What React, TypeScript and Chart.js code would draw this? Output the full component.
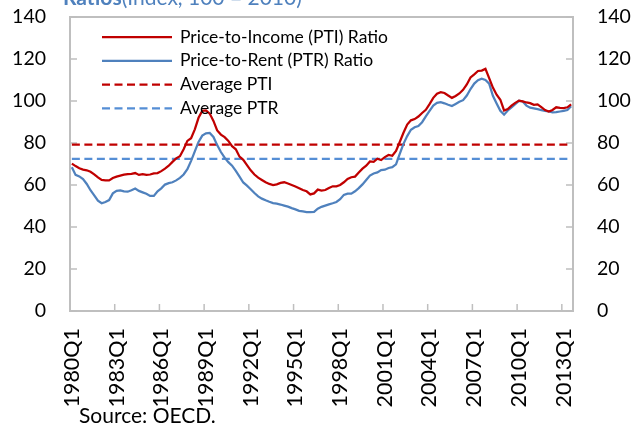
import { useEffect, useRef } from "react";
import { Chart, registerables } from "chart.js";

Chart.register(...registerables);

// ---------- data ----------
const START_YEAR = 1980;
const N_QUARTERS = 135; // 1980Q1 .. 2013Q3
const quarters: string[] = [];
for (let k = 0; k < N_QUARTERS; k++) {
  quarters.push(`${START_YEAR + Math.floor(k / 4)}Q${(k % 4) + 1}`);
}

const pti: number[] = [
  70.2, 69.0, 68.0, 67.3, 67.0, 66.3, 65.1, 63.6, 62.4, 62.2,
  62.2, 63.3, 64.0, 64.5, 64.9, 65.2, 65.3, 65.7, 64.8, 65.2,
  64.8, 65.0, 65.5, 65.7, 66.6, 67.8, 69.2, 71.0, 72.7, 73.7,
  77.0, 81.0, 82.3, 86.5, 92.0, 95.3, 95.5, 94.0, 90.5, 86.0,
  84.0, 82.8, 81.0, 78.5, 77.0, 73.5, 72.0, 69.5, 67.0, 65.0,
  63.5, 62.4, 61.3, 60.5, 60.0, 60.3, 61.0, 61.3, 60.7, 60.0,
  59.3, 58.5, 57.6, 57.0, 55.5, 56.0, 57.8, 57.3, 57.6, 58.6,
  59.4, 59.4, 60.0, 61.3, 62.9, 63.7, 64.0, 66.0, 67.8, 69.2,
  71.2, 71.0, 72.5, 71.9, 73.3, 74.3, 73.9, 76.2, 80.5, 84.9,
  88.8, 90.8, 91.4, 92.6, 94.3, 95.8, 98.5, 101.5, 103.5, 104.2,
  103.8, 102.6, 101.5, 102.4, 103.6, 105.3, 107.9, 111.2, 112.7, 114.3,
  114.5, 115.3, 110.9, 106.4, 103.0, 100.6, 95.5, 96.2, 97.8, 99.1,
  100.2, 99.8, 99.3, 99.0, 98.2, 98.4, 97.1, 95.7, 95.0, 95.7,
  97.0, 96.7, 96.6, 97.0, 98.4,
];

const ptr: number[] = [
  68.4, 64.8, 64.1, 62.8, 60.5, 57.5, 55.1, 52.5, 51.3, 51.9,
  52.8, 56.0, 57.2, 57.4, 57.0, 56.8, 57.5, 58.3, 57.2, 56.5,
  55.8, 54.8, 54.8, 57.0, 58.4, 60.2, 60.9, 61.3, 62.2, 63.4,
  65.0, 67.5, 71.5, 76.0, 80.5, 83.5, 84.6, 84.8, 82.9, 79.0,
  75.7, 73.0, 70.9, 69.2, 66.7, 64.0, 61.2, 59.7, 58.0, 56.2,
  54.6, 53.5, 52.7, 52.0, 51.4, 51.1, 50.7, 50.2, 49.7, 49.0,
  48.4, 47.7, 47.4, 47.1, 47.1, 47.2, 48.7, 49.6, 50.2, 50.8,
  51.3, 51.9, 53.2, 55.3, 55.9, 55.9, 57.0, 58.5, 60.3, 62.4,
  64.5, 65.5, 66.0, 67.1, 67.3, 68.1, 68.5, 69.8, 74.8, 79.6,
  83.3, 86.3, 87.5, 88.1, 89.9, 92.7, 95.3, 97.8, 99.1, 99.4,
  98.9, 98.2, 97.6, 98.6, 99.6, 100.4, 102.6, 105.7, 108.3, 109.9,
  110.6, 110.0, 108.3, 102.5, 98.8, 95.3, 93.5, 95.5, 97.0, 98.5,
  100.1, 99.8, 97.8, 96.8, 96.5, 96.1, 95.7, 95.3, 95.0, 94.6,
  94.7, 95.0, 95.3, 95.7, 97.5,
];

const AVG_PTI = 79.2;
const AVG_PTR = 72.4;

const seriesNames = [
  "Price-to-Income (PTI) Ratio",
  "Price-to-Rent (PTR) Ratio",
  "Average PTI",
  "Average PTR",
];

const Y_MIN = 0;
const Y_MAX = 140;
const Y_STEP = 20;
const X_LABEL_EVERY = 12;

const TITLE_BOLD = "Ratios";
const TITLE_REST = "(Index, 100 = 2010)";
const SOURCE = "Source: OECD.";

// ---------- styles ----------
const RED = "#c00000";
const BLUE = "#4f81bd";
const BLUE_DASH = "#558ed5";
const FRAME = "#bfbfbf";
const FONT = "Lato, 'Open Sans', sans-serif";

const framePlugin = {
  id: "frameTicks",
  beforeDatasetsDraw(chart: any) {
    const { ctx, chartArea: a, scales } = chart;
    ctx.save();
    ctx.strokeStyle = FRAME;
    ctx.lineWidth = 2;
    ctx.strokeRect(a.left, a.top, a.right - a.left, a.bottom - a.top);
    ctx.lineWidth = 1.5;
    ctx.beginPath();
    for (let v = Y_MIN; v <= Y_MAX; v += Y_STEP) {
      const y = scales.y.getPixelForValue(v);
      ctx.moveTo(a.left, y);
      ctx.lineTo(a.left + 7, y);
      ctx.moveTo(a.right - 7, y);
      ctx.lineTo(a.right, y);
    }
    const xs = scales.x;
    for (let i = X_LABEL_EVERY; i < quarters.length; i += X_LABEL_EVERY) {
      const px = (xs.getPixelForValue(i - 1) + xs.getPixelForValue(i)) / 2;
      ctx.moveTo(px, a.bottom);
      ctx.lineTo(px, a.bottom - 7);
    }
    ctx.stroke();
    ctx.restore();
  },
  afterDraw(chart: any) {
    const { ctx, chartArea: a } = chart;
    ctx.save();
    // legend inside plot
    const ds = chart.data.datasets;
    const x0 = a.left + 32;
    const x1 = a.left + 102;
    let y = a.top + 20;
    ctx.font = `17.5px ${FONT}`;
    ctx.textBaseline = "middle";
    ctx.fillStyle = "#000";
    for (const d of ds) {
      ctx.strokeStyle = d.borderColor;
      ctx.lineWidth = 2.25;
      ctx.setLineDash(d.borderDash || []);
      ctx.beginPath();
      ctx.moveTo(x0, y);
      ctx.lineTo(x1, y);
      ctx.stroke();
      ctx.setLineDash([]);
      ctx.fillText(d.label, x1 + 8, y);
      y += 23.8;
    }
    // title (cropped at top)
    ctx.textBaseline = "alphabetic";
    ctx.fillStyle = BLUE;
    ctx.font = `bold 21px ${FONT}`;
    ctx.fillText(TITLE_BOLD, 63, 5);
    const w = ctx.measureText(TITLE_BOLD).width;
    ctx.font = `21px ${FONT}`;
    ctx.fillText(TITLE_REST, 63 + w, 5);
    // source
    ctx.fillStyle = "#000";
    ctx.font = `21px ${FONT}`;
    ctx.fillText(SOURCE, 79, 423);
    ctx.restore();
  },
};

export default function App() {
  const ref = useRef<HTMLCanvasElement | null>(null);
  useEffect(() => {
    if (!ref.current) return;
    const yAxisCommon = {
      min: Y_MIN,
      max: Y_MAX,
      grid: { display: false, drawTicks: true, tickLength: 24 },
      border: { display: false },
      ticks: {
        stepSize: Y_STEP,
        padding: 0,
        color: "#000",
        font: { family: FONT, size: 19.5 },
      },
    };
    const chart = new Chart(ref.current, {
      type: "line",
      data: {
        labels: quarters,
        datasets: [
          {
            label: seriesNames[0],
            data: pti,
            borderColor: RED,
            borderWidth: 2.25,
            pointRadius: 0,
            tension: 0,
            fill: false,
            order: 1,
          },
          {
            label: seriesNames[1],
            data: ptr,
            borderColor: BLUE,
            borderWidth: 2.25,
            pointRadius: 0,
            tension: 0,
            fill: false,
            order: 2,
          },
          {
            label: seriesNames[2],
            data: quarters.map(() => AVG_PTI),
            borderColor: RED,
            borderWidth: 2.25,
            borderDash: [8, 4.5],
            pointRadius: 0,
            fill: false,
            order: 3,
          },
          {
            label: seriesNames[3],
            data: quarters.map(() => AVG_PTR),
            borderColor: BLUE_DASH,
            borderWidth: 2.25,
            borderDash: [8, 4.5],
            pointRadius: 0,
            fill: false,
            order: 4,
          },
        ],
      },
      options: {
        responsive: false,
        animation: false,
        devicePixelRatio: 1,
        layout: { padding: { top: 17, left: 0, right: 0, bottom: 0 } },
        plugins: {
          legend: { display: false },
          title: { display: false },
          tooltip: { enabled: false },
        },
        scales: {
          x: {
            type: "category",
            offset: true,
            grid: { display: false, drawTicks: true, tickLength: 17, offset: true },
            border: { display: false },
            ticks: {
              autoSkip: false,
              maxRotation: 90,
              minRotation: 90,
              padding: 0,
              color: "#000",
              font: { family: FONT, size: 21.5 },
              callback: (_v: any, idx: number) =>
                idx % X_LABEL_EVERY === 0 ? quarters[idx] : null,
            },
            afterFit: (s: any) => {
              s.height = 117;
            },
          },
          y: {
            ...yAxisCommon,
            position: "left",
            afterFit: (s: any) => {
              s.width = 70;
            },
          },
          y2: {
            ...yAxisCommon,
            position: "right",
            afterFit: (s: any) => {
              s.width = 63;
            },
          },
        },
      },
      plugins: [framePlugin],
    } as any);
    return () => chart.destroy();
  }, []);
  return (
    <div style={{ position: "absolute", left: 0, top: 0, width: 636, height: 428, background: "#fff" }}>
      <canvas ref={ref} width={636} height={428} />
    </div>
  );
}
